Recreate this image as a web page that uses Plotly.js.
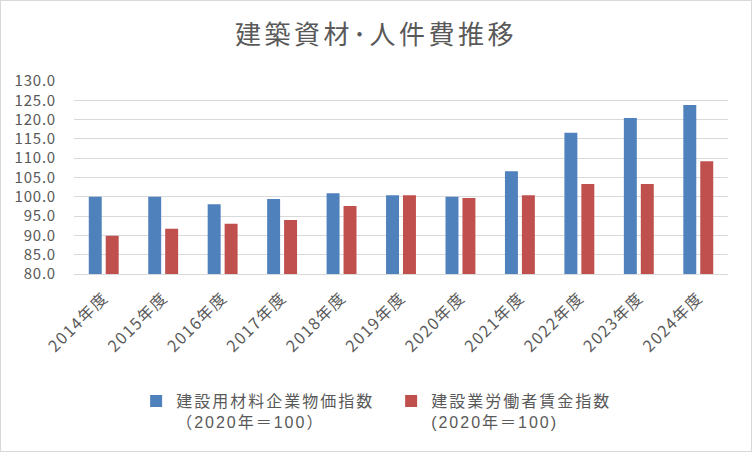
<!DOCTYPE html>
<html>
<head>
<meta charset="utf-8">
<script src="https://cdn.plot.ly/plotly-3.0.1.min.js"></script>
<style>
html,body{margin:0;padding:0;background:#fff;}
#chart{width:752px;height:452px;box-sizing:border-box;border:1px solid #d9d9d9;}
#chart .gtitle{letter-spacing:3.5px;}
#chart .legendtext{letter-spacing:2px;}
#chart .xtick text{letter-spacing:1.5px;}
#chart .ytick text{letter-spacing:0.8px;}
</style>
</head>
<body>
<div id="chart"></div>
<script>
const categories = ["2014年度","2015年度","2016年度","2017年度","2018年度","2019年度","2020年度","2021年度","2022年度","2023年度","2024年度"];
const materialIndex = [100.0, 100.0, 98.1, 99.4, 100.9, 100.4, 100.0, 106.6, 116.6, 120.4, 123.8];
const laborIndex = [89.9, 91.7, 93.0, 94.0, 97.6, 100.4, 99.7, 100.4, 103.3, 103.3, 109.2];
const seriesNames = ["建設用材料企業物価指数<br>（2020年＝100）", "建設業労働者賃金指数<br>(2020年＝100)"];
const chartTitle = "建築資材･人件費推移";

const font = "'Noto Sans CJK JP', 'Noto Sans', sans-serif";
const legendFont = "'Liberation Sans', 'Noto Sans CJK JP', sans-serif";
const grey = "#595959";

const data = [
  {type:"bar", x:categories, y:materialIndex, name:seriesNames[0], marker:{color:"#4F81BD"}},
  {type:"bar", x:categories, y:laborIndex, name:seriesNames[1], marker:{color:"#C0504D"}}
];

const layout = {
  width:750, height:450,
  margin:{l:73, r:23, t:80, b:175},
  paper_bgcolor:"#fff", plot_bgcolor:"#fff",
  font:{family:font, color:grey, size:15},
  title:{text:chartTitle, x:0.5, xref:"container", y:0.925, yanchor:"middle", font:{size:26, color:grey, family:font}},
  barmode:"group", bargap:0.43, bargroupgap:0.235,
  xaxis:{tickangle:-45, tickfont:{size:16, color:grey}, showline:true, linecolor:"#d9d9d9", linewidth:1,
         ticks:"outside", ticklen:7, tickcolor:"rgba(0,0,0,0)", showgrid:false},
  yaxis:{range:[80,130], dtick:5, tickformat:".1f", tickfont:{size:15, color:grey}, gridcolor:"#d9d9d9", gridwidth:1,
         zeroline:false, ticks:"outside", ticklen:14, tickcolor:"rgba(0,0,0,0)", showline:false},
  showlegend:true,
  legend:{orientation:"h", x:0.095, xanchor:"left", y:-0.57, yanchor:"top", valign:"top", font:{size:16, color:grey, family:legendFont}, entrywidth:210, itemwidth:30, traceorder:"normal"}
};

Plotly.newPlot("chart", data, layout, {displayModeBar:false, staticPlot:true});
</script>
</body>
</html>
